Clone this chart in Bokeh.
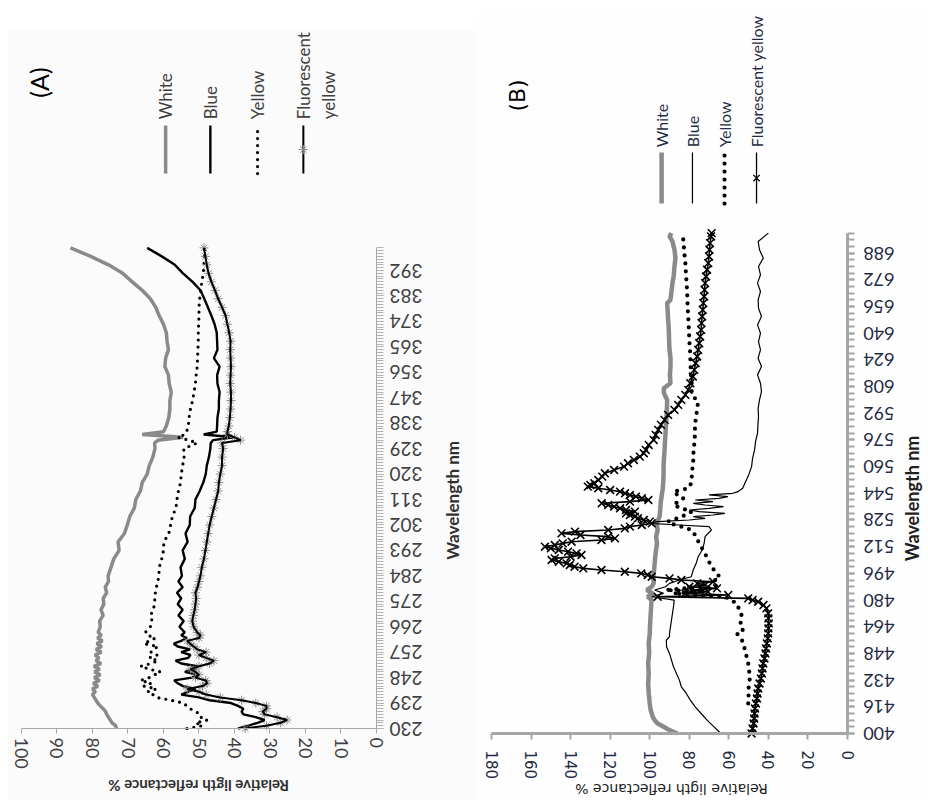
import math
from bokeh.plotting import figure
from bokeh.models import Range1d, FixedTicker, Spacer
from bokeh.layouts import row, column
from bokeh.core.properties import value
from bokeh.embed import file_html
from bokeh.resources import INLINE

# ---------------- Panel A data (UV, 230-400 nm) ----------------
wl_a = [230, 231, 232, 233, 234, 235, 236, 237, 238, 239, 240, 241, 242, 243, 244,
        245, 246, 247, 248, 249, 250, 251, 252, 253, 254, 255, 256, 257, 258, 259,
        260, 261, 262, 263, 264, 266, 268, 270, 272, 274, 276, 278, 280, 282, 284,
        287, 290, 293, 296, 299, 302, 305, 308, 311, 314, 317, 320, 323, 326, 329,
        331, 332, 333, 334, 335, 337, 340, 343, 346, 349, 352, 355, 358, 361, 364,
        367, 370, 373, 376, 379, 382, 385, 388, 391, 394, 397, 400]
white_a = [73.2, 73.5, 74.5, 75, 75.5, 76, 76.3, 77, 77.8, 78.5, 79, 79.5, 80, 79.2, 80,
           78.5, 79.8, 78, 79.5, 77.8, 79.4, 78, 79.6, 77.6, 79, 78.2, 79.3, 77.5, 79, 77.4,
           78.8, 77.2, 78.6, 77.5, 78.4, 77.8, 78, 77, 77.6, 76.8, 77, 76, 76.4, 75.5, 75.6,
           74.8, 74, 72.5, 72.8, 71, 70.2, 69.5, 68.2, 67.8, 66.5, 66, 64.6, 64, 63, 62.4,
           62.5, 61.5, 54.5, 66, 60, 59.2, 58.5, 58.2, 58.2, 57.8, 58.4, 58.6, 59.6, 59.4, 58.6,
           59, 59.2, 60, 61.2, 62.2, 63.7, 66, 68.8, 71.5, 75.5, 80.5, 86.2]
blue_a = [39, 36, 33.5, 31.5, 34, 37.5, 38, 37.5, 39, 41, 47, 50, 55, 53, 51,
          54.5, 56, 57, 52, 50.5, 54, 51, 50.5, 55, 56.6, 53, 52.4, 55, 52.5, 56,
          57.1, 55, 53.5, 55, 54, 55.5, 54.3, 55.8, 54.6, 56, 55, 56.2, 54.6, 55.8, 54.8,
          55.2, 54, 54.6, 53.2, 53.8, 52.6, 52.5, 51.2, 51, 49.8, 48.8, 48.1, 47.8, 47.2, 46.8,
          46.7, 46, 40.2, 48.7, 45, 44.9, 44.8, 44.4, 44.4, 44.2, 44.8, 44.9, 44.2, 45.8, 44.8,
          44.9, 45, 45.6, 46.5, 47.5, 48.5, 49.6, 51.8, 54.5, 56.8, 60.5, 64.6]
yellow_a = [53.4, 49, 51, 47.7, 49.5, 49.6, 51, 52.5, 53.5, 54.3, 58, 62, 63, 64.5, 62,
            65.5, 63.5, 66.5, 64, 62.5, 60.8, 64, 66.5, 63.5, 61.5, 64, 61.8, 63.5, 63, 61.5,
            65.5, 64, 62.3, 64.5, 65.1, 63.7, 63.2, 63.7, 62.8, 62.6, 62.4, 62.3, 62, 61.6, 61.3,
            61.2, 60.5, 60, 59.9, 58.5, 58, 57.5, 56.5, 56.2, 55.8, 55.2, 55, 54.6, 54.2, 54.3,
            50.5, 53, 56, 54, 53.5, 53, 52.8, 52.4, 51.8, 51.4, 51, 50.8, 50.5, 50.4, 50.3,
            50.2, 50.2, 50.1, 50, 50, 49.8, 49.5, 49.2, 48.8, 48.6, 48.5, 48.4]
fluor_a = [37, 31, 27, 25.2, 28, 31.5, 32, 31, 31, 34, 38, 44, 48, 50, 53.3,
           49, 47.7, 48.1, 51, 50, 51, 52.4, 50, 47, 45.8, 48, 50, 48, 50.5, 51.5,
           52.5, 53.3, 50, 49.6, 50.5, 51.5, 51.9, 51.6, 51.2, 51, 50.8, 51, 50.4, 50, 49.6,
           49.2, 48.6, 48.2, 47.8, 47.4, 47, 46.4, 45.8, 45.2, 44.6, 44.4, 44, 43.5, 43.5, 43.2,
           43.5, 38.3, 40, 42, 42, 41.6, 41.3, 41.1, 41, 41, 41.2, 41.1, 41, 41.1, 41.2,
           41.1, 41.5, 42, 42.5, 43.5, 44.6, 45.5, 46.5, 47.3, 47.8, 48.2, 48.6]

ticks_a_wl = list(range(230, 393, 9))
ticks_a_refl = list(range(0, 101, 10))

# ---------------- Panel B data (visible, 400-700 nm) ----------------
wl_b_white = [400, 402, 404, 406, 408, 410, 414, 418, 424, 430, 436, 442, 448, 454, 460,
              466, 472, 478, 480, 482, 484, 486, 488, 490, 494, 498, 502, 506, 510, 514,
              518, 522, 526, 530, 534, 538, 542, 546, 550, 555, 560, 565, 570, 575, 580,
              585, 590, 595, 600, 604, 607, 610, 615, 620, 625, 630, 635, 640, 645, 650,
              655, 658, 660, 665, 670, 675, 680, 685, 690, 695, 698, 700]
white_b = [86, 90, 93, 96, 97.5, 98.5, 99.5, 100, 100.5, 100.8, 100.5, 100.8, 100.3, 100.5, 100,
           99.8, 99.5, 99.2, 99, 101, 98.5, 101.5, 99, 98, 98.2, 97.8, 97.5, 97.2, 96.8, 96.3,
           96.8, 96, 96.5, 95, 94.7, 94.5, 94, 93.5, 93.2, 93, 93, 92.8, 92.5, 92.3, 92,
           91.8, 91.5, 91.3, 91.2, 92.8, 92.9, 89.5, 89.8, 89.5, 89.5, 90, 90.2, 90.3, 90.5, 90.8,
           91, 91.2, 89.5, 89, 88.5, 87.8, 87.5, 87, 87.5, 88.5, 90, 89]

wl_b_blue = [400, 404, 408, 412, 416, 420, 424, 428, 432, 436, 440, 444, 448, 452, 456,
             458, 460, 464, 468, 472, 476, 480, 482, 484, 486, 488, 490, 492, 494, 498,
             502, 506, 510, 514, 518, 522, 524, 525, 526, 527, 528, 529, 530, 531, 532,
             533, 534, 535, 536, 537, 538, 539, 540, 541, 542, 543, 544, 545, 547, 550,
             555, 560, 565, 570, 575, 580, 585, 590, 595, 600, 605, 610, 615, 620, 625,
             630, 635, 640, 645, 650, 655, 660, 665, 670, 675, 680, 685, 690, 695, 700]
blue_b = [64, 67.5, 71, 74, 77, 79.5, 81.5, 84, 85, 86.5, 88, 89, 90, 91.5, 91.6,
          90, 90, 89.5, 89, 88.5, 88, 87.6, 99, 93, 97.5, 92, 90, 85, 79, 78,
          76.5, 75.5, 73.5, 72.5, 72, 68.8, 70, 85, 100, 96, 80, 72, 78, 68, 62,
          75, 80, 70, 62.7, 72, 78, 68, 77, 65, 60.5, 70, 58, 55.4, 53, 51.9,
          50, 48.5, 48, 47, 46.5, 45.5, 45.3, 45, 45.2, 44.5, 43.5, 44, 45.5, 43.5, 45.2,
          44, 45, 44, 45.5, 43.5, 45, 45.2, 44, 45.5, 44, 45, 42.6, 44.5, 45.2, 40]

wl_b_yellow = [418, 422, 426, 430, 434, 438, 442, 446, 450, 454, 458, 460, 462, 465, 468,
               471, 474, 477, 480, 482, 484, 485, 486, 487, 488, 490, 492, 494, 496, 498,
               500, 504, 508, 512, 515, 518, 522, 524, 525, 527, 529, 531, 533, 535, 537,
               539, 541, 543, 545, 547, 550, 553, 558, 563, 567, 572, 577, 581, 586, 590,
               595, 599, 602, 605, 610, 616, 622, 629, 636, 642, 649, 655, 662, 669, 676,
               682, 688, 693, 697, 700]
yellow_b = [50.2, 50, 50.2, 49.6, 49.4, 49.8, 50.2, 51, 51.9, 52.5, 54.4, 56, 53, 54.4, 53.6,
            53.6, 55, 55.3, 58.6, 62, 88, 72, 92, 82, 67, 65.3, 67, 64.5, 66.5, 67.5,
            68.7, 70.5, 72.1, 74, 75.4, 76.5, 78.8, 84, 87.3, 91, 86, 82, 78.8, 84, 88,
            85.6, 83, 86, 88, 80.5, 79, 78.8, 78.5, 78, 78, 77.6, 77.2, 77.2, 77, 76.5,
            76, 75.5, 78, 78.8, 78.8, 79.2, 79.4, 79.6, 80, 80.2, 80.5, 80.8, 81, 81.3, 81.7,
            82, 82.5, 82.8, 83.1, 81]

wl_b_fluor = [400, 403, 406, 409, 412, 415, 418, 421, 424, 427, 430, 433, 436, 439, 442,
              445, 448, 451, 454, 457, 460, 463, 466, 469, 472, 475, 477, 479, 480, 481,
              482, 483, 484, 485, 486, 487, 488, 489, 490, 491, 492, 493, 494, 495, 496,
              497, 498, 499, 500, 501, 502, 503, 504, 505, 506, 507, 508, 509, 510, 511,
              512, 513, 514, 515, 516, 517, 518, 519, 520, 521, 522, 523, 524, 525, 526,
              527, 528, 529, 530, 531, 532, 533, 534, 535, 536, 537, 538, 539, 540, 541,
              542, 543, 544, 545, 546, 547, 548, 549, 550, 552, 554, 556, 558, 560, 562,
              564, 566, 568, 570, 573, 576, 579, 582, 585, 588, 591, 594, 597, 600, 603,
              606, 610, 614, 618, 622, 626, 630, 634, 638, 642, 646, 650, 654, 658, 662,
              666, 670, 674, 678, 682, 686, 690, 694, 698, 700]
fluor_b = [48.5, 48, 47.5, 47.2, 47, 46.8, 46.3, 45.8, 45.5, 45.2, 44.5, 43.8, 43.3, 43, 42.6,
           42, 41.5, 41.2, 40.8, 40.3, 40.1, 40, 39.8, 40, 40.1, 41, 42.5, 45.2, 48, 50.2,
           96, 60.3, 82, 70.5, 79, 66, 80, 72, 76, 68, 84, 90, 99, 101, 104.3,
           112.6, 124.4, 133.6, 138, 140.4, 142, 146, 149.6, 148, 140, 134.5, 137, 141.3, 146, 150,
           153, 148, 144, 139.5, 124.4, 117.6, 121, 135, 144.6, 137.8, 121, 112.6, 110, 104, 99,
           100, 103, 106, 107.5, 110, 112, 107.5, 112, 115, 118, 121, 124.3, 110, 100.7, 104,
           107, 110, 112.5, 115, 120, 126, 131.3, 130, 128, 126, 124, 122.7, 118, 113, 111,
           108, 105, 103, 102, 100.5, 98, 97, 95.7, 94.3, 92.5, 90.7, 87.5, 85.6, 84, 82,
           80.5, 79.5, 78.2, 77.5, 76.8, 76, 75.5, 75, 74.5, 74, 73.8, 73.5, 73.2, 72.9, 72.5,
           72.3, 72, 71.5, 71, 70.4, 70, 69.8, 69.5, 69, 68.7]

ticks_b_wl = list(range(400, 689, 16))
ticks_b_refl = list(range(0, 181, 20))

series_names = ["White", "Blue", "Yellow", "Fluorescent"]
x_title = "Relative ligth reflectance %"
y_title = "Wavelength nm"

GRAY = "#8a8a8a"
AXIS_A = "#a6a6a6"
AXIS_B = "#a6a6a6"
TXT_A = "#404040"
TXT_B = "#1f2a44"

# ---------------- Panel A figure ----------------
# the frame spans the whole figure; axes are pinned at the data edges
pa = figure(width=470, height=770, output_backend="svg", toolbar_location=None,
            x_range=Range1d(103.94, -28.45), y_range=Range1d(204.53, 476.9),
            y_axis_location="right", min_border=0)
pa.background_fill_color = "#fbfbfb"
pa.border_fill_color = "#fbfbfb"
pa.outline_line_color = None
pa.grid.visible = False

xa = pa.xaxis[0]
xa.fixed_location = 230
xa.ticker = FixedTicker(ticks=ticks_a_refl)
xa.bounds = (0, 100)
xa.axis_line_color = AXIS_A
xa.major_tick_line_color = AXIS_A
xa.major_tick_in = 0
xa.major_tick_out = 5
xa.minor_tick_line_color = None
xa.major_label_orientation = "vertical"
xa.major_label_text_font = "Lato"
xa.major_label_text_font_size = "18px"
xa.major_label_text_color = TXT_A
xa.major_label_standoff = 4

ya = pa.yaxis[0]
ya.fixed_location = 0
ya.ticker = FixedTicker(ticks=ticks_a_wl, minor_ticks=list(range(230, 401)))
ya.bounds = (230, 400)
ya.axis_line_color = AXIS_A
ya.major_tick_line_color = AXIS_A
ya.minor_tick_line_color = "#b4b4b4"
ya.major_tick_in = 0
ya.major_tick_out = 7
ya.minor_tick_in = 0
ya.minor_tick_out = 7
ya.major_label_orientation = math.pi
ya.major_label_text_font = "Lato"
ya.major_label_text_font_size = "19px"
ya.major_label_text_color = TXT_A
ya.major_label_standoff = 39

pa.line(white_a, wl_a, line_color=GRAY, line_width=3.5)
pa.line(yellow_a, wl_a, line_color="black", line_width=3.2, line_dash="0 7", line_cap="round")
pa.line(blue_a, wl_a, line_color="black", line_width=2.4)
pa.scatter(fluor_a, wl_a, marker="asterisk", size=9, line_color="#8c8c8c", line_width=1)
pa.line(fluor_a, wl_a, line_color="black", line_width=2)

# axis titles (A)
pa.text(x=[-21.4], y=[310.7], text=[y_title], angle=math.pi / 2, text_align="center",
        text_baseline="middle", text_font=value("Lato"), text_font_style="bold",
        text_font_size="17px", text_color="#303030")
pa.text(x=[50.1], y=[209.5], text=[x_title], angle=math.pi, text_align="center",
        text_baseline="middle", text_font=value("Lato"), text_font_style="bold",
        text_font_size="15px", text_color="#303030")

# panel label and legend (A)
pa.text(x=[95.2], y=[458.5], text=["(A)"], angle=math.pi / 2, text_align="center",
        text_baseline="middle", text_font=value("Lato"), text_font_size="25px",
        text_color="black")
leg_x_a = [59.4, 46.8, 33.5, 20.6]
leg_y0_a, leg_y1_a, leg_txt_a = 426.3, 443.3, 445.5
pa.line([leg_x_a[0]] * 2, [leg_y0_a, leg_y1_a], line_color=GRAY, line_width=3.5)
pa.line([leg_x_a[1]] * 2, [leg_y0_a, leg_y1_a], line_color="black", line_width=2.4)
pa.line([leg_x_a[2]] * 2, [leg_y0_a, leg_y1_a], line_color="black", line_width=3.2,
        line_dash="0 7", line_cap="round")
pa.line([leg_x_a[3]] * 2, [leg_y0_a, leg_y1_a], line_color="black", line_width=2)
pa.scatter([leg_x_a[3]], [(leg_y0_a + leg_y1_a) / 2], marker="asterisk", size=9,
           line_color="#8c8c8c")
pa.text(x=leg_x_a, y=[leg_txt_a] * 4, text=series_names, angle=math.pi / 2,
        text_align="left", text_baseline="middle", text_font=value("Lato"),
        text_font_size="17px", text_color=TXT_A)
pa.text(x=[13.4], y=[leg_txt_a], text=["yellow"], angle=math.pi / 2,
        text_align="left", text_baseline="middle", text_font=value("Lato"),
        text_font_size="17px", text_color=TXT_A)

# ---------------- Panel B figure ----------------
pb = figure(width=450, height=790, output_backend="svg", toolbar_location=None,
            x_range=Range1d(187.08, -40.44), y_range=Range1d(359.83, 833.45),
            y_axis_location="right", min_border=0)
pb.background_fill_color = "#fefefe"
pb.border_fill_color = "#fefefe"
pb.outline_line_color = None
pb.grid.visible = False

xb = pb.xaxis[0]
xb.fixed_location = 400
xb.ticker = FixedTicker(ticks=ticks_b_refl)
xb.bounds = (0, 180)
xb.axis_line_color = AXIS_B
xb.axis_line_width = 3
xb.major_tick_line_color = AXIS_B
xb.major_tick_line_width = 2
xb.major_tick_in = 0
xb.major_tick_out = 6
xb.minor_tick_line_color = None
xb.major_label_orientation = "vertical"
xb.major_label_text_font = "DejaVu Sans"
xb.major_label_text_font_size = "15px"
xb.major_label_text_color = TXT_B
xb.major_label_standoff = 11

yb = pb.yaxis[0]
yb.fixed_location = 0
yb.ticker = FixedTicker(ticks=ticks_b_wl, minor_ticks=list(range(400, 701, 4)))
yb.bounds = (400, 700)
yb.axis_line_color = AXIS_B
yb.axis_line_width = 3
yb.major_tick_line_color = AXIS_B
yb.major_tick_line_width = 2
yb.minor_tick_line_color = AXIS_B
yb.minor_tick_line_width = 2
yb.major_tick_in = 0
yb.major_tick_out = 7
yb.minor_tick_in = 0
yb.minor_tick_out = 7
yb.major_label_orientation = math.pi
yb.major_label_text_font = "Lato"
yb.major_label_text_font_size = "18px"
yb.major_label_text_color = TXT_B
yb.major_label_standoff = 40

pb.line(white_b, wl_b_white, line_color=GRAY, line_width=4.5)
pb.line(blue_b, wl_b_blue, line_color="black", line_width=1.2)
pb.line(yellow_b, wl_b_yellow, line_color="black", line_width=4.2, line_dash="0 8",
        line_cap="round")
pb.line(fluor_b, wl_b_fluor, line_color="black", line_width=1.6)
pb.scatter(fluor_b, wl_b_fluor, marker="x", size=11, line_color="black", line_width=1.6)

# axis titles (B)
pb.text(x=[-32.4], y=[540.9], text=[y_title], angle=math.pi / 2, text_align="center",
        text_baseline="middle", text_font=value("Lato"), text_font_style="bold",
        text_font_size="18px", text_color="#202020")
pb.text(x=[89.0], y=[366.6], text=[x_title], angle=math.pi, text_align="center",
        text_baseline="middle", text_font=value("DejaVu Sans"),
        text_font_size="14px", text_color="#202020")

pb.text(x=[166.8], y=[782.5], text=["(B)"], angle=math.pi / 2, text_align="center",
        text_baseline="middle", text_font=value("DejaVu Sans"), text_font_size="22px",
        text_color="black")
leg_x_b = [94, 78.4, 62.2, 46]
leg_y0_b, leg_y1_b, leg_txt_b = 717.7, 748.3, 751.5
pb.line([leg_x_b[0]] * 2, [leg_y0_b, leg_y1_b], line_color=GRAY, line_width=4.5)
pb.line([leg_x_b[1]] * 2, [leg_y0_b, leg_y1_b], line_color="black", line_width=1.2)
pb.line([leg_x_b[2]] * 2, [leg_y0_b, leg_y1_b], line_color="black", line_width=4.2,
        line_dash="0 8", line_cap="round")
pb.line([leg_x_b[3]] * 2, [leg_y0_b, leg_y1_b], line_color="black", line_width=1.3)
pb.scatter([leg_x_b[3]], [(leg_y0_b + leg_y1_b) / 2], marker="x", size=9,
           line_color="black", line_width=1.3)
pb.text(x=leg_x_b, y=[leg_txt_b] * 4,
        text=["White", "Blue", "Yellow", "Fluorescent yellow"], angle=math.pi / 2,
        text_align="left", text_baseline="middle", text_font=value("Lato"),
        text_font_size="16px", text_color=TXT_B)

layout = row(Spacer(width=7, height=10),
             column(Spacer(height=30, width=470), pa),
             column(Spacer(height=10, width=450), pb))

open("out.html", "w").write(file_html(layout, INLINE))
